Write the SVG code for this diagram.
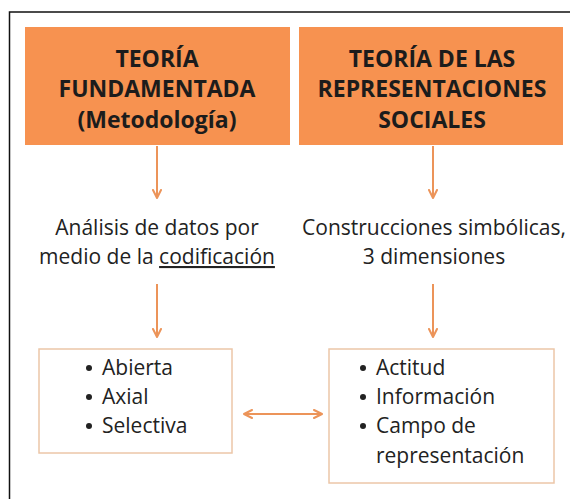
<svg xmlns="http://www.w3.org/2000/svg" width="570" height="499" viewBox="0 0 570 499">
<defs>
<style>
.hdr{fill:#f79250}
.ht{font-family:"Open Sans","Noto Sans",sans-serif;font-weight:bold;font-size:23px;fill:#1c1c1c;text-anchor:middle}
.t{font-family:"Open Sans","Noto Sans",sans-serif;font-size:21px;fill:#222;text-anchor:middle}
.b{font-family:"Open Sans","Noto Sans",sans-serif;font-size:21px;fill:#222}
.dot{fill:#222}
.box{fill:#fff;stroke:#ecc6a8;stroke-width:1.5}
.ln{stroke:#ec9459;stroke-width:2;fill:none}
</style>
<marker id="ah" viewBox="0 0 10 10" refX="9" refY="5" markerWidth="5" markerHeight="5" orient="auto-start-reverse" markerUnits="strokeWidth">
<path d="M1,1 L9,5 L1,9" fill="none" stroke="#ec9459" stroke-width="2" stroke-linecap="round" stroke-linejoin="round"/>
</marker>
</defs>
<rect width="570" height="499" fill="#fff"/>
<path d="M9.5,499 V12 H570" fill="none" stroke="#111" stroke-width="1.5"/>
<g id="n1">
<rect class="hdr" x="25" y="27" width="265" height="118"/>
<text class="ht" x="157" y="67">TEORÍA</text>
<text class="ht" x="157" y="97">FUNDAMENTADA</text>
<text class="ht" x="157" y="128">(Metodología)</text>
</g>
<g id="n2">
<rect class="hdr" x="299" y="27" width="264" height="118"/>
<text class="ht" x="432" y="67">TEORÍA DE LAS</text>
<text class="ht" x="432" y="97">REPRESENTACIONES</text>
<text class="ht" x="432" y="128">SOCIALES</text>
</g>
<g id="n3">
<text class="t" x="157" y="235">Análisis de datos por</text>
<text class="t" x="157" y="264">medio de la <tspan text-decoration="underline">codificación</tspan></text>
</g>
<g id="n4">
<text class="t" x="434" y="235">Construcciones simbólicas,</text>
<text class="t" x="434" y="264">3 dimensiones</text>
</g>
<g id="n5">
<rect class="box" x="39" y="349" width="193" height="104"/>
<circle class="dot" cx="89" cy="368" r="3"/>
<circle class="dot" cx="89" cy="397" r="3"/>
<circle class="dot" cx="89" cy="426" r="3"/>
<text class="b" x="102" y="375">Abierta</text>
<text class="b" x="102" y="404">Axial</text>
<text class="b" x="102" y="433">Selectiva</text>
</g>
<g id="n6">
<rect class="box" x="329" y="349" width="225" height="134"/>
<circle class="dot" cx="363" cy="368" r="3"/>
<circle class="dot" cx="363" cy="397" r="3"/>
<circle class="dot" cx="363" cy="426" r="3"/>
<text class="b" x="376" y="375">Actitud</text>
<text class="b" x="376" y="404">Información</text>
<text class="b" x="376" y="433">Campo de</text>
<text class="b" x="376" y="463">representación</text>
</g>
<g id="connectors">
<line class="ln" x1="157" y1="146" x2="157" y2="198" marker-end="url(#ah)"/>
<line class="ln" x1="433" y1="146" x2="433" y2="198" marker-end="url(#ah)"/>
<line class="ln" x1="157" y1="284" x2="157" y2="337" marker-end="url(#ah)"/>
<line class="ln" x1="433" y1="284" x2="433" y2="337" marker-end="url(#ah)"/>
<line class="ln" x1="244" y1="414" x2="322" y2="414" marker-start="url(#ah)" marker-end="url(#ah)"/>
</g>
</svg>
